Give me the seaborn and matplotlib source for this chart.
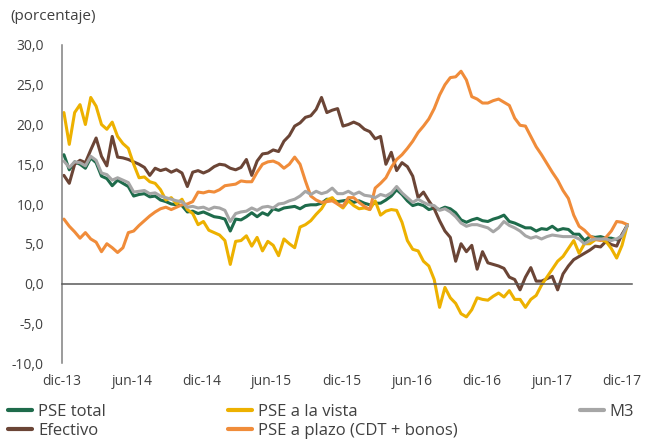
import numpy as np
import pandas as pd
import seaborn as sns
import matplotlib.pyplot as plt

sns.set_theme(style="white")
plt.rcParams['font.family'] = ['Open Sans', 'DejaVu Sans']

# datos quincenales (crecimiento anual, %)
fechas = pd.date_range("2013-12-06", periods=106, freq="14D")

pse_total = [16.2, 14.3, 15.3, 15.0, 14.5, 15.8, 15.2, 13.5, 13.2, 12.3, 13.0, 12.6, 12.2, 11.0, 11.2, 11.3, 10.9, 11.0, 10.5, 10.3, 10.0, 9.9, 9.8, 9.0, 9.1, 8.8, 9.0,
             8.7, 8.4, 8.3, 8.1, 6.6, 8.1, 8.0, 8.4, 8.9, 8.4, 8.9, 8.6, 9.4, 9.2, 9.5, 9.6, 9.7, 9.4, 9.8, 9.9, 9.9, 10.1, 10.6, 10.5, 10.3,
             10.4, 10.5, 10.2, 10.4, 10.1, 9.9, 10.1, 10.1, 10.5, 11.0, 11.8, 11.2, 10.4, 9.8, 10.0, 9.8, 9.3, 9.5, 9.3, 9.6, 9.4, 8.9, 8.0, 7.7, 8.0, 8.2,
             7.9, 7.8, 8.1, 8.3, 8.6, 7.8, 7.6, 7.3, 7.0, 7.0, 6.6, 6.9, 6.8, 7.2, 6.7, 6.9, 6.8, 6.2, 6.2, 5.4, 5.9, 5.8, 5.9, 5.7, 5.7, 5.5, 6.0, 7.4]

efectivo = [13.6, 12.6, 15.0, 15.5, 15.2, 16.8, 18.3, 16.0, 14.8, 18.5, 15.9, 15.8, 15.6, 15.3, 15.0, 14.6, 13.6, 14.5, 14.2, 14.4, 14.0, 14.3, 13.9, 12.2, 14.0, 14.2, 13.9,
            14.2, 14.7, 15.0, 14.9, 14.5, 14.3, 14.6, 15.6, 13.6, 15.4, 16.3, 16.4, 16.8, 16.6, 17.9, 18.6, 19.8, 20.2, 20.9, 21.1, 21.9, 23.4, 21.5, 21.8, 22.0,
            19.8, 20.0, 20.3, 20.0, 19.4, 19.1, 18.2, 18.5, 15.0, 16.5, 14.2, 15.2, 14.7, 13.5, 10.8, 11.5, 10.4, 9.4, 7.9, 6.6, 5.8, 2.8, 5.0, 4.0, 4.8, 1.8,
            4.0, 2.6, 2.4, 2.2, 1.9, 0.8, 0.5, -0.8, 0.8, 2.0, 0.3, 0.3, 0.6, 0.9, -0.8, 1.2, 2.2, 3.0, 3.4, 3.8, 4.2, 4.7, 4.6, 5.3, 4.9, 4.7, 6.2, 7.3]

pse_vista = [21.5, 17.5, 21.5, 22.5, 20.0, 23.4, 22.3, 20.0, 19.4, 20.3, 18.5, 17.6, 17.0, 15.0, 13.3, 13.4, 12.8, 12.6, 11.8, 10.5, 10.8, 10.0, 10.6, 9.3, 8.8, 7.4, 7.8,
             6.7, 6.4, 6.1, 5.4, 2.4, 5.3, 5.4, 6.0, 4.7, 5.8, 4.1, 5.3, 4.8, 3.5, 5.6, 5.0, 4.5, 7.1, 7.4, 7.9, 8.7, 9.4, 10.5, 10.8, 10.0,
             9.5, 10.4, 9.8, 9.4, 9.5, 9.3, 10.4, 8.6, 9.1, 9.3, 9.2, 7.7, 5.4, 4.3, 4.1, 2.8, 2.2, 0.5, -3.0, -0.5, -1.8, -2.5, -3.8, -4.2, -3.3, -1.8,
             -2.0, -2.1, -1.6, -1.2, -1.7, -0.9, -2.0, -2.0, -3.0, -2.0, -1.5, -0.2, 0.8, 1.8, 2.8, 3.4, 4.4, 5.4, 3.8, 5.0, 5.0, 5.5, 5.5, 5.3, 4.4, 3.2, 4.8, 7.4]

pse_plazo = [8.1, 7.2, 6.5, 5.7, 6.4, 5.6, 5.2, 4.0, 5.0, 4.5, 3.9, 4.5, 6.4, 6.6, 7.3, 7.9, 8.5, 9.0, 9.4, 9.6, 9.3, 9.6, 9.9, 10.0, 10.3, 11.5, 11.4,
             11.6, 11.5, 11.8, 12.3, 12.4, 12.5, 12.9, 12.8, 12.8, 14.0, 15.0, 15.3, 15.4, 15.1, 14.5, 15.0, 15.9, 15.0, 12.9, 11.0, 10.5, 10.2, 10.3, 10.4, 10.0,
             9.7, 10.8, 10.8, 10.2, 9.7, 9.3, 12.0, 12.6, 13.3, 14.6, 15.6, 16.2, 17.0, 17.9, 19.0, 19.8, 20.7, 22.0, 23.7, 25.0, 25.9, 26.0, 26.7, 25.6, 23.5, 23.2,
             22.7, 22.7, 23.0, 23.2, 22.8, 22.4, 20.8, 19.9, 19.8, 18.5, 17.2, 16.2, 15.1, 14.0, 13.0, 11.7, 10.7, 8.6, 7.2, 6.7, 6.0, 5.6, 5.4, 5.8, 6.6, 7.8, 7.7, 7.4]

m3 = [15.4, 14.6, 15.3, 15.2, 14.8, 16.0, 15.5, 13.9, 13.7, 13.0, 13.3, 13.0, 12.7, 11.5, 11.6, 11.7, 11.3, 11.4, 11.0, 10.8, 10.6, 10.4, 10.3, 9.6, 9.7, 9.5, 9.6,
      9.3, 9.6, 9.5, 9.2, 7.8, 8.8, 9.0, 9.1, 9.5, 9.2, 9.6, 9.7, 9.5, 10.0, 10.1, 10.4, 10.6, 11.0, 11.6, 11.2, 11.6, 11.3, 11.5, 12.0, 11.3,
      11.3, 11.6, 11.2, 11.5, 11.1, 11.0, 10.8, 11.2, 11.0, 11.4, 12.2, 11.4, 10.8, 10.2, 10.6, 10.2, 9.9, 9.8, 9.2, 9.4, 9.0, 8.4, 7.6, 7.2, 7.4, 7.4,
      7.2, 7.0, 6.5, 7.0, 7.8, 7.3, 7.0, 6.6, 6.0, 5.7, 5.9, 5.6, 5.9, 6.1, 6.0, 5.9, 5.9, 5.9, 5.6, 5.0, 5.4, 5.6, 5.6, 5.6, 5.4, 5.6, 6.0, 7.3]

nombres = ["PSE total", "Efectivo", "PSE a la vista", "PSE a plazo (CDT + bonos)", "M3"]
colores = ["#1E6B4B", "#6B4536", "#EDB100", "#F08C3A", "#A6A6A6"]

y_ticks = [-10, -5, 0, 5, 10, 15, 20, 25, 30]
y_labels = ["-10,0", "-5,0", "0,0", "5,0", "10,0", "15,0", "20,0", "25,0", "30,0"]
x_ticks = ["2013-12-01", "2014-06-01", "2014-12-01", "2015-06-01", "2015-12-01",
           "2016-06-01", "2016-12-01", "2017-06-01", "2017-12-01"]
x_labels = ["dic-13", "jun-14", "dic-14", "jun-15", "dic-15", "jun-16", "dic-16", "jun-17", "dic-17"]

df = pd.DataFrame({"PSE total": pse_total, "Efectivo": efectivo, "PSE a la vista": pse_vista,
                   "PSE a plazo (CDT + bonos)": pse_plazo, "M3": m3}, index=fechas)
df.index.name = "fecha"
largo = df.reset_index().melt(id_vars="fecha", var_name="serie", value_name="valor")

texto = "#404040"
fig = plt.figure(figsize=(6.47, 4.40), dpi=100)
ax = fig.add_axes([62/647, 77/440, 570/647, 318/440])
sns.lineplot(data=largo, x="fecha", y="valor", hue="serie", hue_order=nombres,
             palette=colores, linewidth=2.2, ax=ax)

ax.set_ylim(-10, 30)
ax.set_yticks(y_ticks)
ax.set_yticklabels(y_labels)
ax.set_xlim(pd.Timestamp("2013-12-01"), pd.Timestamp("2017-12-27"))
ax.set_xticks(pd.to_datetime(x_ticks))
ax.set_xticklabels(x_labels)
ax.set_xlabel("")
ax.set_ylabel("")

ax.spines['top'].set_visible(False)
ax.spines['right'].set_visible(False)
ax.spines['bottom'].set_position(('data', 0))
ax.spines['bottom'].set_color("#595959")
ax.spines['bottom'].set_linewidth(1.1)
ax.spines['left'].set_color("#808080")
ax.spines['left'].set_linewidth(1.1)
ax.tick_params(axis='x', direction='in', length=3, width=1, color="#595959",
               pad=65.5, labelsize=10, labelcolor=texto)
ax.tick_params(axis='y', direction='in', length=2.5, width=1, color="#808080",
               pad=13, labelsize=10, labelcolor=texto)

fig.text(10/647, 1 - 17/440, "(porcentaje)", fontsize=11, color=texto, va='center', ha='left')

handles, labels = ax.get_legend_handles_labels()
leg = ax.legend(handles, labels, ncol=3, mode='expand', loc='center',
                bbox_to_anchor=(8/647, 0.0, 626/647, 0.0841), bbox_transform=fig.transFigure,
                frameon=False, fontsize=12, handlelength=1.45, handletextpad=0.35,
                labelspacing=0.18, borderpad=0, borderaxespad=0)
for h in leg.get_lines():
    h.set_linewidth(3)
for t in leg.get_texts():
    t.set_color(texto)

plt.savefig("out.png", dpi=100)
